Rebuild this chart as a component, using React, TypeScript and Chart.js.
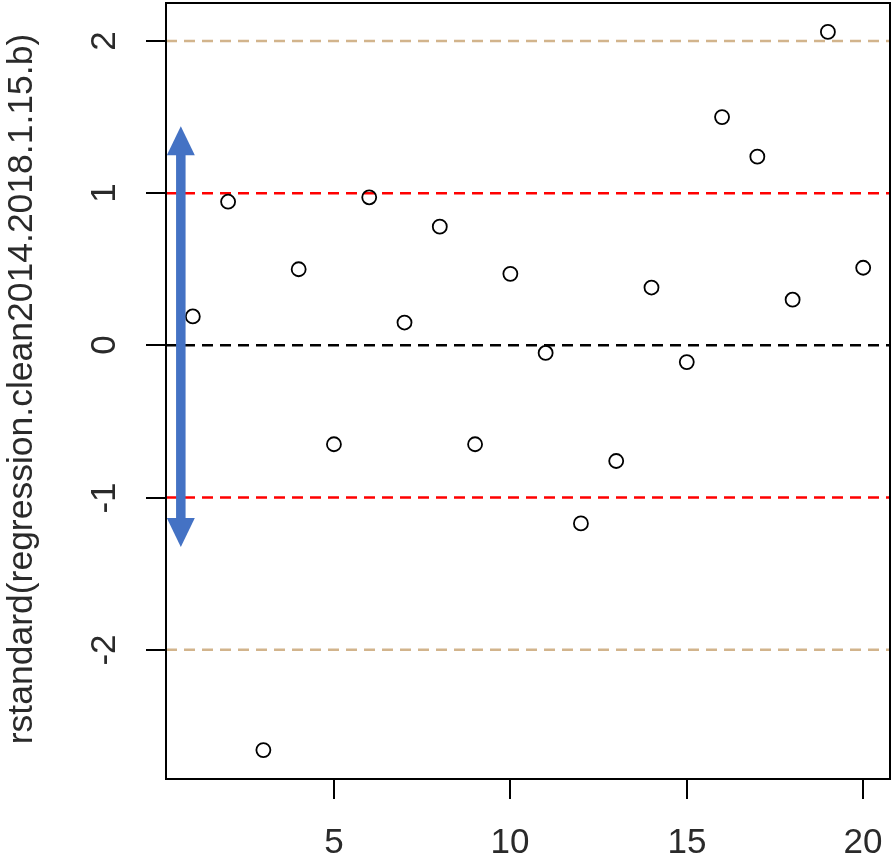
import React, { useEffect, useRef } from "react";
import { Chart, registerables } from "chart.js";

Chart.register(...registerables);

// ---- data ----
const xIndex = [1, 2, 3, 4, 5, 6, 7, 8, 9, 10, 11, 12, 13, 14, 15, 16, 17, 18, 19, 20];
const residuals = [0.19, 0.944, -2.66, 0.5, -0.65, 0.973, 0.15, 0.78, -0.65, 0.47, -0.05, -1.17, -0.76, 0.38, -0.11, 1.5, 1.24, 0.3, 2.06, 0.51];
const xTicks = [5, 10, 15, 20];
const yTicks = [-2, -1, 0, 1, 2];
const refLevels = [2, 1, 0, -1, -2];
const refColors = ["#D2B48C", "#FF0000", "#000000", "#FF0000", "#D2B48C"];
const xRange = [0.24, 20.76];
const yRange = [-2.85, 2.25];
const arrowX = 0.66;
const arrowYFrom = -1.325;
const arrowYTo = 1.44;
const yTitle = "rstandard(regression.clean2014.2018.1.15.b)";

const FONT = '35px "Liberation Sans", Arial, sans-serif';
const TITLE_FONT = '35.5px "Liberation Sans", Arial, sans-serif';
const TEXT_COLOR = "#2a2a2a";

const axesPlugin = {
  id: "rAxes",
  afterDatasetsDraw(chart: any) {
    const { ctx, chartArea } = chart;
    const xs = chart.scales.x;
    const ys = chart.scales.y;

    // arrow
    const ax = xs.getPixelForValue(arrowX);
    const yTop = ys.getPixelForValue(arrowYTo);
    const yBot = ys.getPixelForValue(arrowYFrom);
    const shaftW = 9.5;
    const headW = 28;
    const headL = 29;
    ctx.save();
    ctx.fillStyle = "#4472C4";
    ctx.fillRect(ax - shaftW / 2, yTop + headL - 1, shaftW, yBot - yTop - 2 * headL + 2);
    ctx.beginPath();
    ctx.moveTo(ax, yTop);
    ctx.lineTo(ax + headW / 2, yTop + headL);
    ctx.lineTo(ax - headW / 2, yTop + headL);
    ctx.closePath();
    ctx.fill();
    ctx.beginPath();
    ctx.moveTo(ax, yBot);
    ctx.lineTo(ax + headW / 2, yBot - headL);
    ctx.lineTo(ax - headW / 2, yBot - headL);
    ctx.closePath();
    ctx.fill();
    ctx.restore();

    // frame
    ctx.save();
    ctx.strokeStyle = "#000";
    ctx.lineWidth = 2;
    ctx.strokeRect(chartArea.left, chartArea.top, chartArea.right - chartArea.left, chartArea.bottom - chartArea.top);

    // x ticks
    ctx.fillStyle = TEXT_COLOR;
    ctx.font = FONT;
    ctx.textAlign = "center";
    ctx.textBaseline = "alphabetic";
    for (const t of xTicks) {
      const px = Math.round(xs.getPixelForValue(t));
      ctx.beginPath();
      ctx.moveTo(px, chartArea.bottom);
      ctx.lineTo(px, chartArea.bottom + 20);
      ctx.stroke();
      ctx.fillText(String(t), px, chartArea.bottom + 74);
    }
    // y ticks
    for (const t of yTicks) {
      const py = Math.round(ys.getPixelForValue(t));
      ctx.beginPath();
      ctx.moveTo(chartArea.left, py);
      ctx.lineTo(chartArea.left - 20, py);
      ctx.stroke();
      ctx.save();
      ctx.translate(chartArea.left - 51, py);
      ctx.rotate(-Math.PI / 2);
      ctx.fillText(String(t), 0, 0);
      ctx.restore();
    }
    // y title
    ctx.font = TITLE_FONT;
    ctx.save();
    ctx.translate(32, (chartArea.top + chartArea.bottom) / 2 - 2);
    ctx.rotate(-Math.PI / 2);
    ctx.fillText(yTitle, 0, 0);
    ctx.restore();
    ctx.restore();
  },
};

export default function App() {
  const ref = useRef<HTMLCanvasElement | null>(null);
  useEffect(() => {
    if (!ref.current) return;
    const refDatasets = refLevels.map((lv, i) => ({
      type: "scatter" as const,
      data: [
        { x: xRange[0], y: lv },
        { x: xRange[1], y: lv },
      ],
      showLine: true,
      borderColor: refColors[i],
      borderWidth: 2.5,
      borderDash: [11, 7],
      pointRadius: 0,
      fill: false,
      order: 2,
    }));
    const chart = new Chart(ref.current, {
      type: "scatter",
      data: {
        datasets: [
          ...refDatasets,
          {
            data: xIndex.map((x, i) => ({ x, y: residuals[i] })),
            pointRadius: 7,
            pointStyle: "circle",
            borderColor: "#000",
            borderWidth: 1.8,
            backgroundColor: "rgba(0,0,0,0)",
            order: 1,
          } as any,
        ],
      },
      options: {
        animation: false,
        responsive: false,
        devicePixelRatio: 1,
        events: [],
        layout: { autoPadding: false, padding: { left: 166, top: 3, right: 4, bottom: 80 } },
        plugins: { legend: { display: false }, tooltip: { enabled: false } },
        scales: {
          x: { type: "linear", min: xRange[0], max: xRange[1], display: false },
          y: { type: "linear", min: yRange[0], max: yRange[1], display: false },
        },
      },
      plugins: [axesPlugin],
    });
    return () => chart.destroy();
  }, []);
  return (
    <div style={{ position: "fixed", left: 0, top: 0, width: 894, height: 859, background: "#fff" }}>
      <canvas ref={ref} width={894} height={859} style={{ width: 894, height: 859, display: "block" }} />
    </div>
  );
}
